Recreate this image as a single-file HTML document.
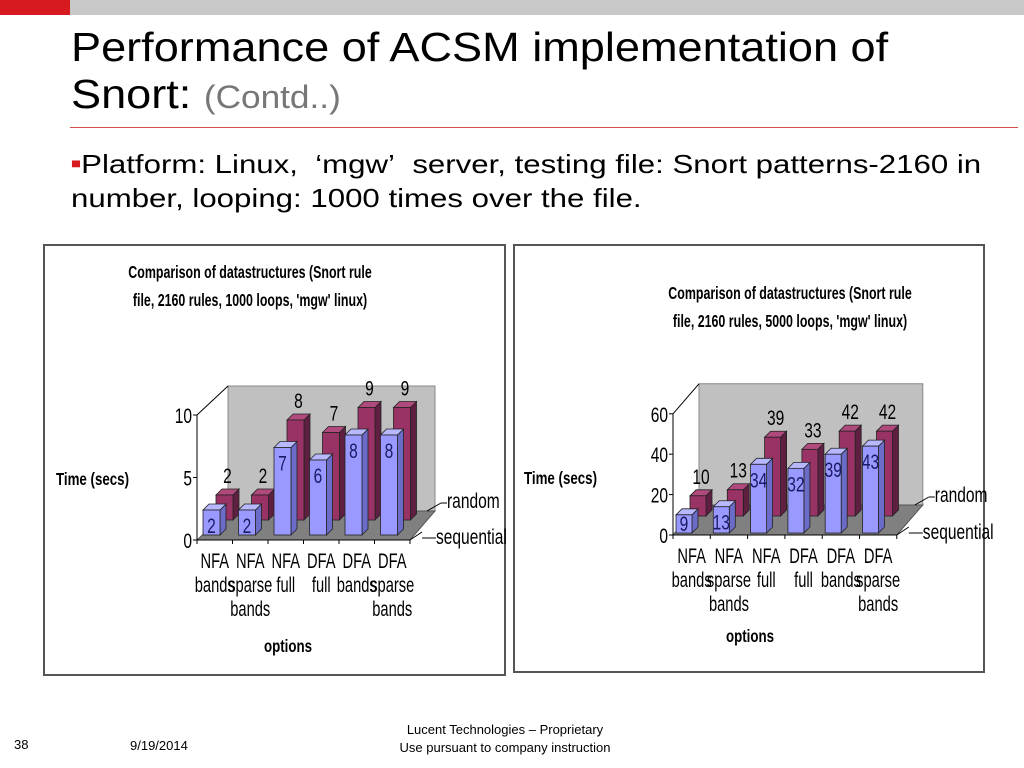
<!DOCTYPE html>
<html><head><meta charset="utf-8"><style>
body{margin:0;width:1024px;height:768px;background:#fff;overflow:hidden;font-family:"Liberation Sans",sans-serif;position:relative}
.t{position:absolute;white-space:nowrap}
</style></head><body>
<div style="position:absolute;left:0;top:0;width:70px;height:15px;background:#d71920"></div>
<div style="position:absolute;left:70px;top:0;width:954px;height:15px;background:#c8c8c8"></div>
<div class="t" style="left:71px;top:24px;font-size:41px;line-height:47px;color:#000;transform:scaleX(1.1);transform-origin:0 0">Performance of ACSM implementation of<br>Snort: <span style="color:#777;font-size:32px">(Contd..)</span></div>
<div style="position:absolute;left:70px;top:127px;width:948px;height:1px;background:#d05050"></div>
<div class="t" style="left:71px;top:146px;font-size:26px;line-height:34px;color:#000;transform:scaleX(1.2);transform-origin:0 0"><span style="color:#d71920;font-size:14px;vertical-align:5px">■</span>Platform: Linux, &nbsp;‘mgw’&nbsp; server, testing file: Snort patterns-2160 in<br>number, looping: 1000 times over the file.</div>
<div class="t" style="left:14px;top:737px;font-size:13px">38</div>
<div class="t" style="left:130px;top:738px;font-size:13px">9/19/2014</div>
<div class="t" style="left:380px;top:721px;width:250px;text-align:center;font-size:13px;line-height:18px">Lucent Technologies – Proprietary<br>Use pursuant to company instruction</div>
<svg id="svg" width="1024" height="768" style="position:absolute;left:0;top:0" xmlns="http://www.w3.org/2000/svg"></svg>
<script>
const categories = [["NFA","bands"],["NFA","sparse","bands"],["NFA","full"],["DFA","full"],["DFA","bands"],["DFA","sparse","bands"]];
const leftSequential = [2,2,7,6,8,8];
const leftRandom = [2,2,8,7,9,9];
const leftTicks = [0,5,10];
const rightSequential = [9,13,34,32,39,43];
const rightRandom = [10,13,39,33,42,42];
const rightTicks = [0,20,40,60];

const svg = document.getElementById('svg');
const NS = 'http://www.w3.org/2000/svg';
function mk(tag, attrs, parent){const e=document.createElementNS(NS,tag);for(const k in attrs)e.setAttribute(k,attrs[k]);(parent||svg).appendChild(e);return e;}
function txt(x,y,s,size,anchor,weight,parent,fill,sx){const e=mk('text',{x:0,y:0,transform:`translate(${x},${y}) scale(${sx||0.74},1)`,'font-size':size,'text-anchor':anchor||'start','font-weight':weight||'normal','font-family':'"Liberation Sans",sans-serif',fill:fill||'#000'},parent);e.textContent=s;return e;}

function chart(c){
  const g = mk('g',{});
  
  
  const fr = mk('rect',{x:c.fx,y:c.fy,width:c.fw,height:c.fh,fill:'#fff',stroke:'#555','stroke-width':2},g);
  
  
  const W = c.cw*categories.length;
  const yv = v => c.oy - v*c.scale;
  const top = yv(c.max);
  const bw = mk('polygon',{points:`${c.ox+c.dx},${top+c.dy} ${c.ox+W+c.dx+c.wx},${top+c.dy} ${c.ox+W+c.dx+c.wx},${c.oy+c.dy} ${c.ox+c.dx},${c.oy+c.dy}`,fill:'#c0c0c0',stroke:'#888'},g);
  
  
  const fl = mk('polygon',{points:`${c.ox},${c.oy} ${c.ox+c.dx},${c.oy+c.dy} ${c.ox+W+c.dx+c.wx},${c.oy+c.dy} ${c.ox+W},${c.oy}`,fill:'#808080',stroke:'#555'},g);
  
  
  mk('line',{x1:c.ox,y1:top,x2:c.ox+c.dx,y2:top+c.dy,stroke:'#000'},g);
  mk('line',{x1:c.ox,y1:c.oy,x2:c.ox,y2:top,stroke:'#000'},g);
  mk('line',{x1:c.ox,y1:c.oy,x2:c.ox+W,y2:c.oy,stroke:'#000'},g);
  c.ticks.forEach(t=>{
    mk('line',{x1:c.ox-4,y1:yv(t),x2:c.ox,y2:yv(t),stroke:'#000'},g);
    const e = txt(c.ox-5,yv(t)+8,String(t),21,'end','normal',g);
    
    
  });
  for(let i=0;i<=categories.length;i++) mk('line',{x1:c.ox+i*c.cw,y1:c.oy,x2:c.ox+i*c.cw,y2:c.oy+4,stroke:'#000'},g);
  function bar(i,v,row,isSeq){
    const x0 = c.ox+i*c.cw+c.pad+row.dx, yb=c.oy+row.dy, yt=yb-v*c.scale, w=c.bw, d=6;
    const col = isSeq?['#9999ff','#6b6bc8','#b8b8ff']:['#993366','#5e1f40','#b04a7c'];
    const b = mk('g',{},g);
    
    
    mk('polygon',{points:`${x0+w},${yb} ${x0+w+d},${yb-d} ${x0+w+d},${yt-d} ${x0+w},${yt}`,fill:col[1],stroke:'#222','stroke-width':0.8},b);
    mk('polygon',{points:`${x0},${yt} ${x0+d},${yt-d} ${x0+w+d},${yt-d} ${x0+w},${yt}`,fill:col[2],stroke:'#222','stroke-width':0.8},b);
    mk('rect',{x:x0,y:yt,width:w,height:yb-yt,fill:col[0],stroke:'#222','stroke-width':0.8},b);
    let l;
    if(isSeq) l = txt(x0+w/2, Math.min(yt+23, yb-2), String(v), 21,'middle','normal',g,'#1a1a66');
    else l = txt(x0+w/2+3, yt-12, String(v), 21,'middle','normal',g);
    
    
  }
  c.rnd.forEach((v,i)=>bar(i,v,c.rRow,false));
  c.seq.forEach((v,i)=>bar(i,v,c.sRow,true));
  categories.forEach((lines,i)=>{
    lines.forEach((s,j)=>{
      const e = txt(c.ox+(i+0.5)*c.cw, c.oy+28+j*24, s, 21,'middle','normal',g,'#000',0.7);
      
      
    });
  });
  const rx = c.ox+W+c.dx+c.wx;
  mk('line',{x1:rx-8,y1:c.oy+c.dy,x2:rx+6,y2:c.oy+c.dy-8,stroke:'#000'},g);
  mk('line',{x1:rx+6,y1:c.oy+c.dy-8,x2:rx+12,y2:c.oy+c.dy-8,stroke:'#000'},g);
  let e = txt(rx+12,c.oy+c.dy-3,'random',21,'start','normal',g);
  
  
  mk('line',{x1:c.ox+W,y1:c.oy,x2:c.ox+W+12,y2:c.oy-8,stroke:'#000'},g);
  mk('line',{x1:c.ox+W+12,y1:c.oy-2,x2:c.ox+W+26,y2:c.oy-2,stroke:'#000'},g);
  e = txt(c.ox+W+26,c.oy+4,'sequential',21,'start','normal',g);
  
  
  e = txt(c.tx,c.ty,c.t1,18,'middle','bold',g,'#000',0.69);
  
  
  e = txt(c.tx,c.ty+28,c.t2,18,'middle','bold',g,'#000',0.69);
  
  
  e = txt(c.yx,c.yy,'Time (secs)',18,'start','bold',g);
  
  
  e = txt(c.ox2,c.oyT,'options',18,'middle','bold',g);
  
  
}
chart({name:'chart-1000-loops',fx:44,fy:245,fw:461,fh:430,ox:197,oy:540,cw:35.5,dx:31,dy:-29,wx:-6,scale:12.5,max:10,ticks:leftTicks,
  seq:leftSequential,rnd:leftRandom,pad:6,bw:17,sRow:{dx:0,dy:-5},rRow:{dx:13,dy:-20},
  t1:"Comparison of datastructures (Snort rule",t2:"file, 2160 rules, 1000 loops, 'mgw' linux)",tx:250,ty:278,yx:56,yy:485,ox2:288,oyT:652});
chart({name:'chart-5000-loops',fx:514,fy:245,fw:470,fh:427,ox:673,oy:535,cw:37.3,dx:26,dy:-30,wx:0,scale:2.02,max:60,ticks:rightTicks,
  seq:rightSequential,rnd:rightRandom,pad:3,bw:16,sRow:{dx:0,dy:-2},rRow:{dx:14,dy:-19},
  t1:"Comparison of datastructures (Snort rule",t2:"file, 2160 rules, 5000 loops, 'mgw' linux)",tx:790,ty:299,yx:524,yy:484,ox2:750,oyT:642});
</script>
</body></html>
